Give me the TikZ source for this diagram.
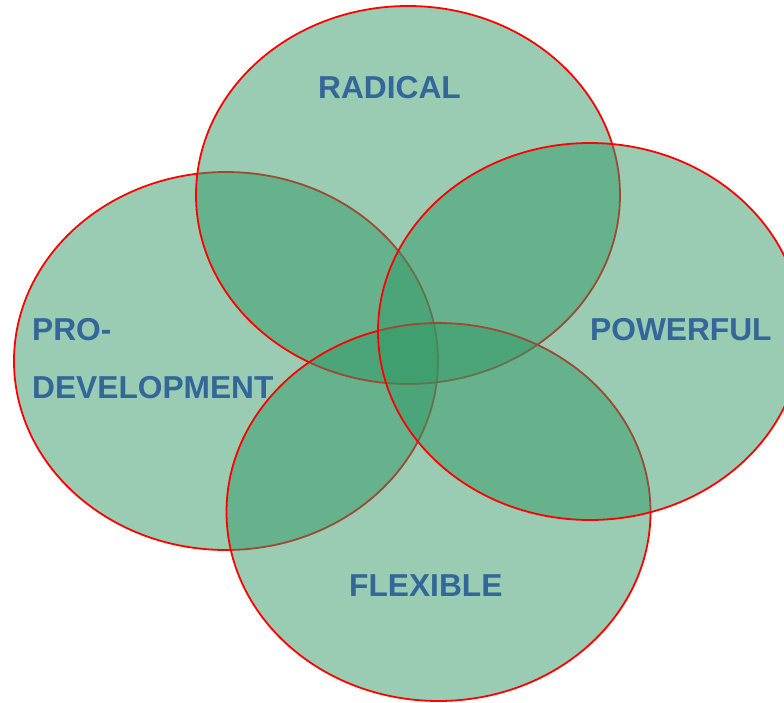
\documentclass[tikz,border=0pt]{standalone}
\usepackage{fontspec}
\setmainfont{Liberation Sans}
\definecolor{vfill}{HTML}{339966}
\definecolor{vline}{HTML}{FF0000}
\definecolor{vtext}{HTML}{336699}
\begin{document}
\begin{tikzpicture}[x=1pt,y=-1pt,
  venn/.style={fill=vfill,fill opacity=0.5,draw=vline,draw opacity=1,line width=1.8pt},
  lbl/.style={text=vtext,font=\fontsize{31.7}{36}\selectfont\bfseries,inner sep=0pt,anchor=base west}]
\useasboundingbox (0,0) rectangle (784,702);
\clip (0,0) rectangle (784,702);
\path[venn] (226,361) ellipse [x radius=212,y radius=189];
\path[venn] (408,195) ellipse [x radius=212,y radius=189];
\path[venn] (438.5,512) ellipse [x radius=212,y radius=189];
\path[venn] (590,331.5) ellipse [x radius=212,y radius=188.5];
\node[lbl] (radical) at (318,98) {RADICAL};
\node[lbl] (powerful) at (590,340) {POWERFUL};
\node[lbl] (proA) at (32,340) {PRO-};
\node[lbl] (proB) at (32,398) {DEVELOPMENT};
\node[lbl] (flexible) at (349,596) {FLEXIBLE};
\end{tikzpicture}
\end{document}
